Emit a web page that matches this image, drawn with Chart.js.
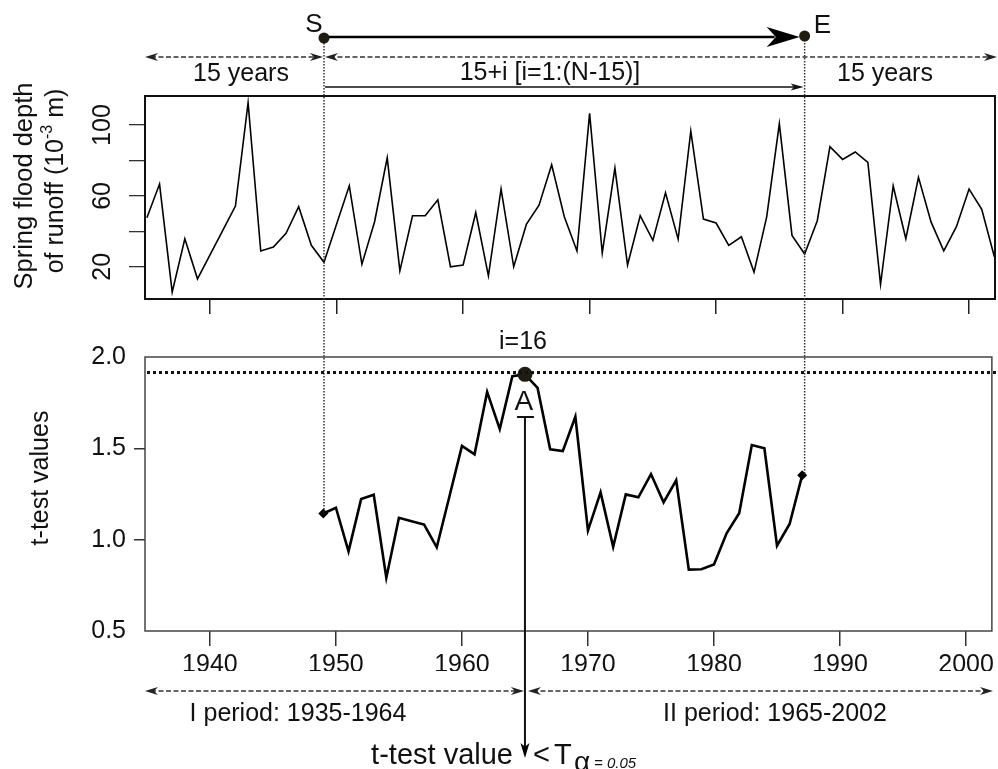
<!DOCTYPE html>
<html>
<head>
<meta charset="utf-8">
<script src="https://cdn.jsdelivr.net/npm/chart.js@4.4.1/dist/chart.umd.min.js"></script>
<style>
  html, body { margin: 0; padding: 0; background: #fff; }
  #wrap { position: relative; width: 998px; height: 769px; overflow: hidden; }
  canvas { position: absolute; left: 0; top: 0; }
</style>
</head>
<body>
<div id="wrap">
  <canvas id="topC" width="998" height="769"></canvas>
  <canvas id="botC" width="998" height="769"></canvas>
  <canvas id="annC" width="998" height="769"></canvas>
</div>
<script>
// ---------------- DATA ----------------
const years = [1935,1936,1937,1938,1939,1940,1941,1942,1943,1944,1945,1946,1947,1948,1949,
  1950,1951,1952,1953,1954,1955,1956,1957,1958,1959,1960,1961,1962,1963,1964,
  1965,1966,1967,1968,1969,1970,1971,1972,1973,1974,1975,1976,1977,1978,1979,
  1980,1981,1982,1983,1984,1985,1986,1987,1988,1989,1990,1991,1992,1993,1994,
  1995,1996,1997,1998,1999,2000,2001,2002];
const runoff = [47.7,66.7,5.7,35.8,13.2,26.9,40.6,54.3,112.6,28.9,31.1,38.9,53.9,32.1,22.5,
  44.1,65.7,21.4,45.4,81.5,17.7,48.8,48.8,57.8,20.0,21.0,50.6,14.9,63.9,20.0,
  43.9,54.8,77.6,48.2,28.9,106.6,27.7,75.7,21.0,48.8,34.9,61.8,35.6,96.6,46.9,
  44.7,32.1,36.9,17.0,48.2,100.7,37.7,27.2,46.0,87.8,80.6,84.8,78.9,10.1,65.6,
  35.8,70.5,45.2,29.0,42.6,63.9,52.4,25.6];
const tYears = [1949,1950,1951,1952,1953,1954,1955,1956,1957,1958,1959,1960,1961,1962,1963,
  1964,1965,1966,1967,1968,1969,1970,1971,1972,1973,1974,1975,1976,1977,1978,
  1979,1980,1981,1982,1983,1984,1985,1986,1987];
const tValues = [1.143,1.175,0.936,1.222,1.246,0.792,1.120,1.101,1.083,0.958,1.235,1.513,1.467,1.809,1.605,
  1.895,1.905,1.831,1.495,1.485,1.673,1.050,1.259,0.961,1.248,1.232,1.359,1.204,1.325,0.836,
  0.838,0.864,1.035,1.145,1.518,1.500,0.967,1.086,1.353];
const xTicks = [1940,1950,1960,1970,1980,1990,2000];
const topYTicks = [20,40,60,80,100];
const topYLabels = [20,60,100];
const botYTicks = [0.5,1.0,1.5,2.0];
const botYMarked = [1.0,1.5];
const tCritical = 1.915;
const breakYear = 1965;

// ---------------- STYLE ----------------
const FAM = '"Liberation Sans", Arial, Helvetica, sans-serif';
Chart.defaults.font.family = FAM;
Chart.defaults.color = '#111';
const F = (s, it) => (it ? 'italic ' : '') + s + 'px ' + FAM;

const boxPlugin = (w, c) => ({
  id: 'box',
  afterDraw(chart) {
    const a = chart.chartArea, ctx = chart.ctx;
    ctx.save(); ctx.strokeStyle = c; ctx.lineWidth = w;
    ctx.strokeRect(a.left, a.top, a.right - a.left, a.bottom - a.top);
    ctx.restore();
  }
});

const topChart = new Chart(document.getElementById('topC'), {
  type: 'line',
  data: { datasets: [{
    data: years.map((y, i) => ({ x: y, y: runoff[i] })),
    borderColor: '#000', borderWidth: 1.6, pointRadius: 0, tension: 0, fill: false
  }]},
  options: {
    responsive: false, animation: false, events: [],
    layout: { padding: { top: 96, right: 3, bottom: 450, left: 0 } },
    plugins: { legend: { display: false }, tooltip: { enabled: false } },
    scales: {
      x: { type: 'linear', min: 1934.85, max: 2002.05,
        afterBuildTicks: s => { s.ticks = xTicks.map(v => ({ value: v })); },
        afterFit: s => { s.height = 20; },
        grid: { drawOnChartArea: false, drawTicks: true, tickLength: 15, tickColor: '#222', lineWidth: 1.5 },
        border: { display: false }, ticks: { display: false } },
      y: { min: 1.8, max: 116.4,
        afterBuildTicks: s => { s.ticks = topYTicks.map(v => ({ value: v })); },
        afterFit: s => { s.width = 145; },
        grid: { drawOnChartArea: false, drawTicks: true, tickLength: 16, tickColor: '#333', lineWidth: 1.3 },
        border: { display: false }, ticks: { display: false } }
    }
  },
  plugins: [boxPlugin(2, '#111')]
});

const nT = tValues.length;
const idxA = tYears.indexOf(breakYear);
const botChart = new Chart(document.getElementById('botC'), {
  type: 'line',
  data: { datasets: [{
    data: tYears.map((y, i) => ({ x: y, y: tValues[i] })),
    borderColor: '#000', borderWidth: 2.6, tension: 0, fill: false,
    pointRadius: c => (c.dataIndex === idxA ? 7.5 : (c.dataIndex === 0 || c.dataIndex === nT - 1) ? 5 : 0),
    pointStyle: c => (c.dataIndex === idxA ? 'circle' : 'rectRot'),
    pointBackgroundColor: c => (c.dataIndex === idxA ? '#1f1d12' : '#000'),
    pointBorderWidth: 0
  }]},
  options: {
    responsive: false, animation: false, events: [],
    layout: { padding: { top: 357, right: 3, bottom: 98, left: 0 } },
    plugins: { legend: { display: false }, tooltip: { enabled: false } },
    scales: {
      x: { type: 'linear', min: 1934.85, max: 2002.05,
        afterBuildTicks: s => { s.ticks = xTicks.map(v => ({ value: v })); },
        afterFit: s => { s.height = 40; },
        grid: { drawOnChartArea: false, drawTicks: true, tickLength: 15, tickColor: '#333', lineWidth: 1.5 },
        border: { display: false },
        ticks: { font: { size: 25 }, padding: 4, color: '#111', maxRotation: 0, autoSkip: false,
          callback: v => String(v) } },
      y: { min: 0.5, max: 2.0,
        afterBuildTicks: s => { s.ticks = botYTicks.map(v => ({ value: v })); },
        afterFit: s => { s.width = 145; },
        grid: { drawOnChartArea: false, drawTicks: true, tickLength: 11, lineWidth: 1.5,
          tickColor: c => (c.tick && botYMarked.includes(c.tick.value)) ? '#333' : 'rgba(0,0,0,0)' },
        border: { display: false },
        ticks: { font: { size: 25 }, padding: 8, color: '#111', callback: v => Number(v).toFixed(1) } }
    }
  },
  plugins: [boxPlugin(1.5, '#444')]
});

// ---------------- ANNOTATIONS ----------------
function head(ctx, x, y, dir, len, half, notch) {
  ctx.save(); ctx.translate(x, y); ctx.rotate(dir);
  ctx.beginPath(); ctx.moveTo(0, 0); ctx.lineTo(-len, -half); ctx.lineTo(-len * notch, 0);
  ctx.lineTo(-len, half); ctx.closePath(); ctx.fill(); ctx.restore();
}
function seg(ctx, x1, y1, x2, y2, w, col, dash) {
  ctx.save(); ctx.strokeStyle = col; ctx.lineWidth = w; ctx.setLineDash(dash || []);
  ctx.beginPath(); ctx.moveTo(x1, y1); ctx.lineTo(x2, y2); ctx.stroke(); ctx.restore();
}
function vtext(ctx, txt, x, y, size) {
  ctx.save(); ctx.translate(x, y); ctx.rotate(-Math.PI / 2);
  ctx.font = F(size); ctx.textAlign = 'center'; ctx.textBaseline = 'alphabetic';
  ctx.fillText(txt, 0, 0); ctx.restore();
}
function text(ctx, txt, x, y, size, align, it) {
  ctx.font = F(size, it); ctx.textAlign = align || 'center'; ctx.textBaseline = 'alphabetic';
  ctx.fillText(txt, x, y);
}

(function drawAnnotations() {
  const ctx = document.getElementById('annC').getContext('2d');
  ctx.fillStyle = '#111';
  const tx = topChart.scales.x, ty = topChart.scales.y;
  const bx = botChart.scales.x, by = botChart.scales.y;
  const ta = topChart.chartArea, ba = botChart.chartArea;
  const xS = tx.getPixelForValue(tYears[0]);
  const xE = tx.getPixelForValue(tYears[nT - 1]);
  const xA = bx.getPixelForValue(breakYear);
  const yTop = 37;

  // top y tick labels (rotated)
  topYLabels.forEach(v => vtext(ctx, String(v), 110, ty.getPixelForValue(v), 25));
  // top y title (two lines, rotated, with superscript)
  vtext(ctx, 'Spring flood depth', 32, 186, 25.5);
  ctx.save(); ctx.translate(63, 181); ctx.rotate(-Math.PI / 2);
  ctx.textBaseline = 'alphabetic'; ctx.textAlign = 'left';
  const p1 = 'of runoff (10', p2 = '-3', p3 = ' m)';
  ctx.font = F(25); const w1 = ctx.measureText(p1).width, w3 = ctx.measureText(p3).width;
  ctx.font = F(16); const w2 = ctx.measureText(p2).width;
  let x0 = -(w1 + w2 + w3) / 2;
  ctx.font = F(25); ctx.fillText(p1, x0, 0);
  ctx.font = F(16); ctx.fillText(p2, x0 + w1, -11);
  ctx.font = F(25); ctx.fillText(p3, x0 + w1 + w2, 0);
  ctx.restore();

  // bottom y title
  vtext(ctx, 't-test values', 48, 478, 25);

  // vertical dotted guides from S and E to the t-test end points
  seg(ctx, xS, yTop, xS, by.getPixelForValue(tValues[0]), 1.5, '#333', [1.5, 1.5]);
  seg(ctx, xE, yTop, xE, by.getPixelForValue(tValues[nT - 1]), 1.5, '#333', [1.5, 1.5]);

  // dashed double arrows at top
  const yD = 57;
  ctx.fillStyle = '#222';
  seg(ctx, ta.left + 6, yD, xS - 6, yD, 1.3, '#333', [5, 2.5]);
  head(ctx, ta.left, yD, Math.PI, 13, 4, 0.7);
  head(ctx, xS - 1, yD, 0, 13, 4, 0.7);
  seg(ctx, xS + 6, yD, 991, yD, 1.3, '#333', [5, 2.5]);
  head(ctx, xS + 1, yD, Math.PI, 13, 4, 0.7);
  head(ctx, 997, yD, 0, 13, 4, 0.7);

  ctx.fillStyle = '#111';
  text(ctx, '15 years', 241, 81, 25);
  text(ctx, '15 years', 885, 81, 25);
  text(ctx, '15+i [i=1:(N-15)]', 550, 80, 25);

  // thin arrow under the middle label
  seg(ctx, xS + 1, 87, xE - 8, 87, 1.3, '#111');
  head(ctx, xE - 1, 87, 0, 13, 3.5, 0.75);

  // thick S -> E arrow
  seg(ctx, xS, yTop, xE - 30, yTop, 2.3, '#000');
  ctx.fillStyle = '#000';
  head(ctx, xE - 5, yTop, 0, 33, 10, 0.72);
  ctx.fillStyle = '#1f1d12';
  ctx.beginPath(); ctx.arc(xS, yTop + 1, 5.5, 0, Math.PI * 2); ctx.fill();
  ctx.beginPath(); ctx.arc(xE, yTop - 1, 5.5, 0, Math.PI * 2); ctx.fill();
  ctx.fillStyle = '#111';
  text(ctx, 'S', xS - 10, 32, 26);
  text(ctx, 'E', xE + 9, 33, 26, 'left');

  // critical t-value dotted line
  const yC = by.getPixelForValue(tCritical);
  seg(ctx, ba.left + 2, yC, 998, yC, 3, '#111', [3, 3]);

  // point A
  text(ctx, 'i=16', xA - 2, 349, 25);
  text(ctx, 'A', xA - 1, 410, 28);
  seg(ctx, xA - 8, 417, xA + 9, 417, 2, '#111');
  seg(ctx, xA, 417, xA, 748, 2, '#111');
  ctx.fillStyle = '#000';
  head(ctx, xA, 758, Math.PI / 2, 15, 4.5, 0.75);

  // period arrows
  const yP = 691;
  ctx.fillStyle = '#222';
  seg(ctx, ba.left + 6, yP, xA - 6, yP, 1.3, '#333', [5, 2.5]);
  head(ctx, ba.left, yP, Math.PI, 13, 4, 0.7);
  head(ctx, xA - 1, yP, 0, 13, 4, 0.7);
  seg(ctx, xA + 8, yP, 987, yP, 1.3, '#333', [5, 2.5]);
  head(ctx, xA + 3, yP, Math.PI, 13, 4, 0.7);
  head(ctx, 993, yP, 0, 13, 4, 0.7);
  ctx.fillStyle = '#111';
  text(ctx, 'I period: 1935-1964', 298, 721, 25);
  text(ctx, 'II period: 1965-2002', 775, 721, 25);

  // bottom caption
  text(ctx, 't-test value', xA - 12, 764, 29, 'right');
  text(ctx, '<', xA + 8, 764, 29, 'left');
  text(ctx, 'T', xA + 29, 764, 29, 'left');
  text(ctx, 'α', xA + 49, 771, 28, 'left');
  text(ctx, '= 0.05', xA + 69, 768, 15, 'left', true);
})();
</script>
</body>
</html>
